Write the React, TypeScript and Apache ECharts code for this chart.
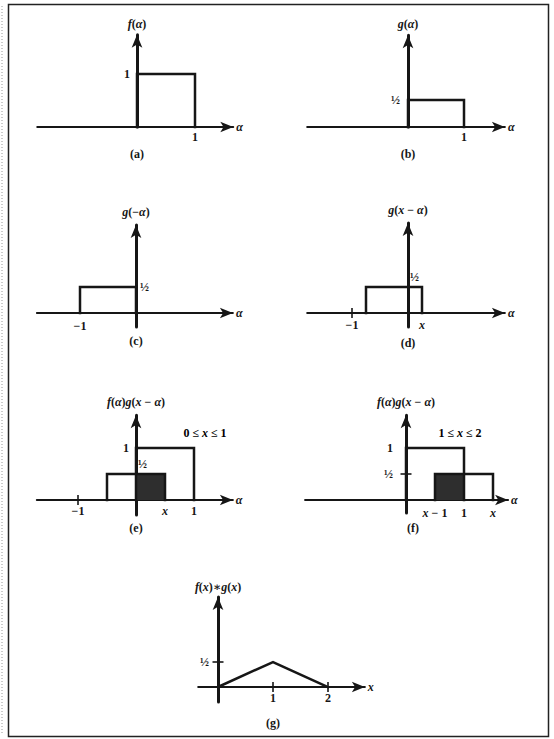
import React, { useEffect, useRef } from 'react';
import * as echarts from 'echarts';

// ---- data (function graphs, in axis units) ----
const fRect = [[0, 0], [0, 1], [1, 1], [1, 0]];
const gRect = [[0, 0], [0, 0.5], [1, 0.5], [1, 0]];
const gFlipped = [[-1, 0], [-1, 0.5], [0, 0.5], [0, 0]];
const gShiftD = [[-0.75, 0], [-0.75, 0.5], [0.25, 0.5], [0.25, 0]];
const gShiftE = [[-0.5, 0], [-0.5, 0.5], [0.5, 0.5], [0.5, 0]];
const overlapE = [[0, 0.5], [0.5, 0.5]];
const gShiftF = [[0.5, 0], [0.5, 0.5], [1.5, 0.5], [1.5, 0]];
const overlapF = [[0.5, 0.5], [1, 0.5]];
const convolution = [[0, 0], [1, 0.5], [2, 0]];

const panelTitles = ['f(α)', 'g(α)', 'g(−α)', 'g(x − α)', 'f(α)g(x − α)', 'f(α)g(x − α)', 'f(x)∗g(x)'];
const axisNames = ['α', 'α', 'α', 'α', 'α', 'α', 'x'];
const captions = ['(a)', '(b)', '(c)', '(d)', '(e)', '(f)', '(g)'];
const rangeNotes = ['0 ≤ x ≤ 1', '1 ≤ x ≤ 2'];

// tick labels: [panel, x, y, text, side]
const tickLabels: [number, number, number, string, string][] = [
  [0, 1, 0, '1', 'below'], [0, 0, 1, '1', 'left'],
  [1, 1, 0, '1', 'below'], [1, 0, 0.5, '½', 'left'],
  [2, -1, 0, '−1', 'below'], [2, 0, 0.5, '½', 'right'],
  [3, -1, 0, '−1', 'below'], [3, 0, 0.5, '½', 'upright'], [3, 0.25, 0, 'x', 'below'],
  [4, 0, 1, '1', 'left'], [4, 0, 0.5, '½', 'upright'], [4, -1, 0, '−1', 'below'], [4, 0.5, 0, 'x', 'below'], [4, 1, 0, '1', 'below'],
  [5, 0, 1, '1', 'left'], [5, 0, 0.5, '½', 'left'], [5, 0.5, 0, 'x − 1', 'below'], [5, 1, 0, '1', 'below'], [5, 1.5, 0, 'x', 'below'],
  [6, 0, 0.5, '½', 'left'], [6, 1, 0, '1', 'below'], [6, 2, 0, '2', 'below'],
];
// tick marks: [panel, x, y, orientation]
const tickMarks: [number, number, number, string][] = [
  [3, -1, 0, 'v'], [4, -1, 0, 'v'], [5, 0, 0.5, 'h'], [6, 0, 0.5, 'h'], [6, 1, 0, 'v'], [6, 2, 0, 'v'],
];

// ---- layout (pixels) ----
const panels = [
  { ox: 137, oy: 127, ux: 58, uy: 53, x0: -1.72, x1: 1.66, y0: 0, y1: 1.74, titleGap: 5, cap: [137, 154], leftGap: 7, belowGap: 4 },
  { ox: 408, oy: 127, ux: 56, uy: 54, x0: -1.8, x1: 1.73, y0: 0, y1: 1.7, titleGap: 5, cap: [408, 154], leftGap: 8, belowGap: 4 },
  { ox: 136, oy: 313, ux: 56, uy: 52, x0: -1.77, x1: 1.73, y0: -0.27, y1: 1.69, titleGap: 7, cap: [136, 341], leftGap: 7, belowGap: 7 },
  { ox: 408, oy: 313, ux: 56, uy: 52, x0: -1.8, x1: 1.73, y0: -0.27, y1: 1.73, titleGap: 7, cap: [408, 343], leftGap: 7, belowGap: 6 },
  { ox: 136, oy: 500, ux: 58, uy: 52, x0: -1.71, x1: 1.67, y0: -0.29, y1: 1.63, titleGap: 7, cap: [136, 528], leftGap: 7, belowGap: 5 },
  { ox: 406, oy: 500, ux: 58, uy: 52, x0: -1.74, x1: 1.76, y0: -0.25, y1: 1.63, titleGap: 7, cap: [413, 528], leftGap: 13, belowGap: 7 },
  { ox: 218, oy: 687, ux: 55, uy: 50, x0: -0.36, x1: 2.67, y0: -0.3, y1: 1.8, titleGap: 4, cap: [273, 723], leftGap: 9, belowGap: 5 },
];
const notePos = [[205, 433], [460, 433]];

const FONT = '"Liberation Serif", "DejaVu Serif", serif';
const INK = '#161616';
const FS = 12;
const rich = {
  i: { fontFamily: FONT, fontWeight: 'bold', fontStyle: 'italic', fontSize: FS, color: INK },
  n: { fontFamily: FONT, fontWeight: 'bold', fontSize: FS, color: INK },
};
function rt(s: string): string {
  let out = '';
  for (const ch of s) {
    const it = /[a-zA-Zα]/.test(ch);
    out += `{${it ? 'i' : 'n'}|${ch}}`;
  }
  return out;
}
const plainText = { fontFamily: FONT, fontWeight: 'bold', fontSize: FS, fill: INK };

function buildOption() {
  const grid: any[] = [];
  const xAxis: any[] = [];
  const yAxis: any[] = [];
  panels.forEach((p, i) => {
    grid.push({
      left: p.ox + p.x0 * p.ux,
      top: p.oy - p.y1 * p.uy,
      width: (p.x1 - p.x0) * p.ux,
      height: (p.y1 - p.y0) * p.uy,
      containLabel: false,
      outerBoundsMode: 'none',
    });
    xAxis.push({
      type: 'value', gridIndex: i, min: p.x0, max: p.x1,
      axisLine: { show: true, onZero: true, symbol: ['none', 'arrow'], symbolSize: [8, 13], lineStyle: { color: INK, width: 2 } },
      axisTick: { show: false }, axisLabel: { show: false }, splitLine: { show: false },
      name: rt(axisNames[i]), nameLocation: 'end', nameGap: 3,
      nameTextStyle: { rich, color: INK, verticalAlign: 'middle' },
    });
    yAxis.push({
      type: 'value', gridIndex: i, min: p.y0, max: p.y1,
      axisLine: { show: true, onZero: true, symbol: ['none', 'arrow'], symbolSize: [8, 13], lineStyle: { color: INK, width: 3 } },
      axisTick: { show: false }, axisLabel: { show: false }, splitLine: { show: false },
      name: rt(panelTitles[i]), nameLocation: 'end', nameGap: p.titleGap,
      nameTextStyle: { rich, color: INK, align: 'center' },
    });
  });

  const line = (i: number, data: number[][]) => ({
    type: 'line', xAxisIndex: i, yAxisIndex: i, data, symbol: 'none', clip: false, z: 3,
    lineStyle: { color: INK, width: 2.5, join: 'miter', cap: 'square' },
  });
  const area = (i: number, data: number[][]) => ({
    type: 'line', xAxisIndex: i, yAxisIndex: i, data, symbol: 'none', clip: false, z: 2,
    lineStyle: { width: 0, opacity: 0 },
    areaStyle: { color: '#2e2e2e', opacity: 1 },
  });

  const series: any[] = [
    line(0, fRect),
    line(1, gRect),
    line(2, gFlipped),
    line(3, gShiftD),
    area(4, overlapE), line(4, fRect), line(4, gShiftE),
    area(5, overlapF), line(5, fRect), line(5, gShiftF),
    line(6, convolution),
  ];

  panels.forEach((p, i) => {
    const labels = tickLabels.filter((t) => t[0] === i).map((t) => {
      const side = t[4];
      let label: any;
      if (side === 'below') label = { position: 'bottom', distance: p.belowGap };
      else if (side === 'left') label = { position: 'left', distance: p.leftGap };
      else if (side === 'right') label = { position: 'right', distance: 4 };
      else label = { position: 'right', distance: 2, offset: [0, -10] };
      return {
        value: [t[1], t[2]],
        label: { show: true, formatter: rt(t[3]), rich, color: INK, textBorderWidth: 0, ...label },
      };
    });
    series.push({
      type: 'scatter', xAxisIndex: i, yAxisIndex: i, symbolSize: 0.01, clip: false, z: 5,
      itemStyle: { color: INK, opacity: 1 }, silent: true,
      label: { color: INK },
      emphasis: { disabled: true },
      data: labels,
    });
    const marks = tickMarks.filter((t) => t[0] === i).map((t) => ({
      value: [t[1], t[2]], symbolSize: t[3] === 'v' ? [2, 10] : [11, 2],
    }));
    if (marks.length) {
      series.push({
        type: 'scatter', xAxisIndex: i, yAxisIndex: i, symbol: 'rect', clip: false, z: 4,
        itemStyle: { color: INK }, silent: true, data: marks,
      });
    }
  });

  const graphic: any[] = [
    { type: 'rect', shape: { x: 8.5, y: 4.5, width: 540, height: 732 }, style: { fill: 'none', stroke: '#222', lineWidth: 1.5 }, z: 10 },
    { type: 'line', shape: { x1: 2, y1: 6, x2: 2, y2: 735 }, style: { stroke: '#999', lineWidth: 1, lineDash: [1, 2] }, z: 10 },
  ];
  panels.forEach((p, i) => {
    graphic.push({
      type: 'text', x: p.cap[0], y: p.cap[1], z: 10,
      style: { text: captions[i], ...plainText, align: 'center', verticalAlign: 'middle' },
    });
  });
  rangeNotes.forEach((n, k) => {
    graphic.push({
      type: 'text', x: notePos[k][0], y: notePos[k][1], z: 10,
      style: { text: rt(n), rich, align: 'center', verticalAlign: 'middle' },
    });
  });

  return {
    animation: false,
    backgroundColor: '#ffffff',
    grid, xAxis, yAxis, series, graphic,
  };
}

export default function App() {
  const ref = useRef<HTMLDivElement>(null);
  useEffect(() => {
    if (!ref.current) return;
    const chart = echarts.init(ref.current, undefined, { renderer: 'svg' });
    chart.setOption(buildOption() as any);
    return () => chart.dispose();
  }, []);
  return <div ref={ref} style={{ position: 'fixed', left: 0, top: 0, width: 554, height: 739 }} />;
}
